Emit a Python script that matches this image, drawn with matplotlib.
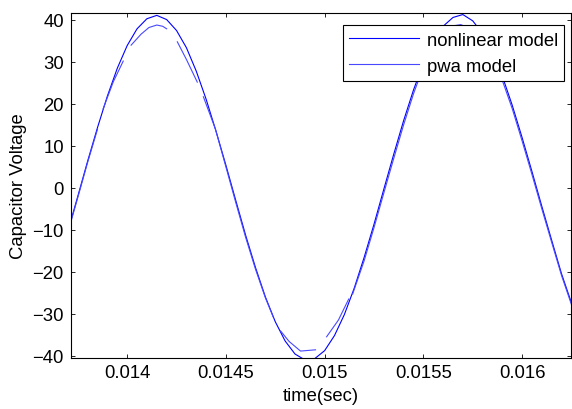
import numpy as np
import matplotlib
matplotlib.use("Agg")
import matplotlib.pyplot as plt

plt.rcParams['font.family'] = ['Liberation Sans', 'DejaVu Sans']

# nonlinear model, sampled every 0.05 ms
t_nl = [0.01370, 0.01375, 0.01380, 0.01385, 0.01390, 0.01395, 0.01400, 0.01405,
        0.01410, 0.01415, 0.01420, 0.01425, 0.01430, 0.01435, 0.01440, 0.01445,
        0.01450, 0.01455, 0.01460, 0.01465, 0.01470, 0.01475, 0.01480, 0.01485,
        0.01490, 0.01495, 0.01500, 0.01505, 0.01510, 0.01515, 0.01520, 0.01525,
        0.01530, 0.01535, 0.01540, 0.01545, 0.01550, 0.01555, 0.01560, 0.01565,
        0.01570, 0.01575, 0.01580, 0.01585, 0.01590, 0.01595, 0.01600, 0.01605,
        0.01610, 0.01615, 0.01620, 0.01625]
v_nl = [-10.3, -2.0, 6.4, 14.4, 21.9, 28.5, 33.9, 37.9,
        40.3, 41.1, 40.1, 37.5, 33.4, 27.8, 21.1, 13.5,
        5.4, -3.0, -11.3, -19.0, -26.0, -31.9, -36.5, -39.6,
        -41.0, -40.7, -38.8, -35.2, -30.2, -23.9, -16.6, -8.7,
        -0.3, 8.0, 16.0, 23.3, 29.7, 34.8, 38.5, 40.6,
        41.3, 39.8, 36.8, 32.3, 26.6, 19.7, 12.0, 3.9,
        -4.4, -12.5, -20.5, -27.4]

# pwa model, piecewise segments (nan = break between segments)
nan = float('nan')
t_pwa = [0.01370, 0.01375, 0.01380, 0.01385, nan,
         0.013878, 0.01393, 0.01398, nan,
         0.01402, 0.01407, 0.01411, 0.01415, 0.01418, 0.01420, nan,
         0.014254, 0.01430, 0.014355, nan,
         0.014386, 0.014447, 0.01450, 0.01455, 0.01460, 0.01465, 0.01470, 0.01474, nan,
         0.014777, 0.01482, 0.014878, 0.014954, nan,
         0.01501, 0.01507, 0.015122, nan,
         0.015142, 0.01520, 0.01525, 0.01530, 0.01535, 0.01540, 0.01545, 0.01550, 0.01553, nan,
         0.01556, 0.01560, 0.01565, 0.01569, 0.01574, 0.01578, nan,
         0.01581, 0.01585, 0.01590, 0.01595, 0.01600, 0.01605, 0.01610, 0.01615, 0.01620, 0.01625]
v_pwa = [-10.6, -2.3, 6.1, 14.0, nan,
         18.8, 25.3, 30.2, nan,
         34.0, 36.6, 38.2, 38.8, 38.5, 37.9, nan,
         34.8, 30.6, 25.2, nan,
         21.7, 14.0, 5.0, -3.5, -11.8, -19.4, -26.2, -30.8, nan,
         -34.1, -36.6, -38.9, -38.6, nan,
         -35.5, -31.5, -26.5, nan,
         -25.3, -17.4, -9.5, -1.2, 7.0, 15.0, 22.4, 28.8, 31.8, nan,
         34.0, 36.6, 38.6, 38.9, 37.8, 35.5, nan,
         34.0, 30.8, 25.6, 18.9, 11.2, 3.2, -5.0, -13.0, -20.9, -27.8]

fig = plt.figure(figsize=(5.72, 4.10), dpi=100)
ax = fig.add_axes([0.1236, 0.1244, 0.8754, 0.8415])

ax.plot(t_nl, v_nl, color='#0000ff', lw=0.8, label='nonlinear model')
ax.plot(t_pwa, v_pwa, color='#4848ff', lw=0.8, label='pwa model')

ax.set_xlim(0.013714, 0.01625)
ax.set_ylim(-40.55, 41.67)
ax.set_xticks([0.014, 0.0145, 0.015, 0.0155, 0.016])
ax.set_xticklabels(['0.014', '0.0145', '0.015', '0.0155', '0.016'])
ax.set_yticks(range(-40, 41, 10))

ax.tick_params(direction='in', length=3, width=0.6, top=True, right=True,
               labelsize=13.3)
ax.tick_params(axis='x', pad=4)
ax.tick_params(axis='y', pad=5)
for s in ax.spines.values():
    s.set_linewidth(0.8)

ax.set_xlabel('time(sec)', fontsize=13.3, labelpad=5)
ax.set_ylabel('Capacitor Voltage', fontsize=13.3, labelpad=4)

leg = ax.legend(loc='upper right', bbox_to_anchor=(0.986, 0.965), borderaxespad=0,
                fontsize=13.3, fancybox=False, edgecolor='black', framealpha=1,
                handlelength=3.8, handletextpad=0.4, labelspacing=0.5, borderpad=0.35)
leg.get_frame().set_linewidth(0.8)

fig.savefig('out.png', dpi=100)
